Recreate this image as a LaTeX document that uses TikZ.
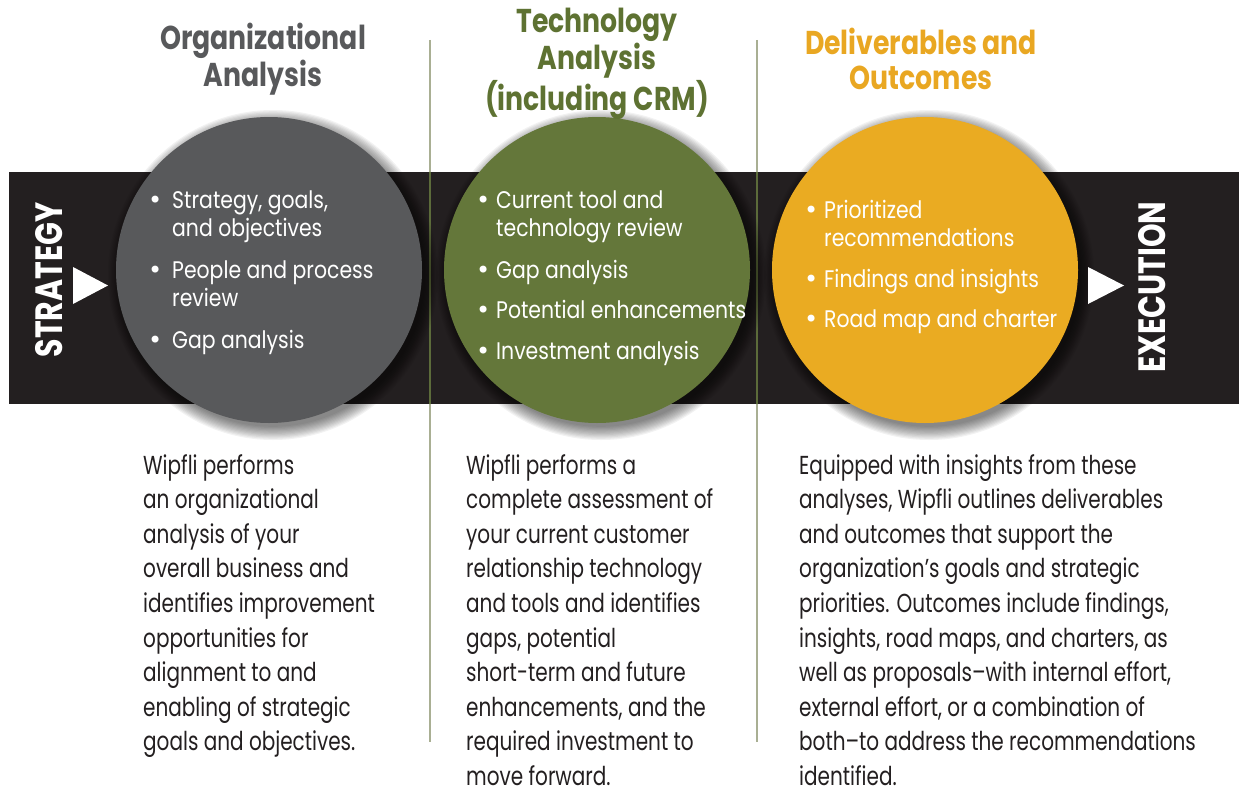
\documentclass[tikz,border=0pt]{standalone}
\usepackage{fontspec}
\setmainfont{Poppins}
\newfontfamily\bodyfont[FakeStretch=0.77]{Poppins}
\newfontfamily\listfont[FakeStretch=0.85]{Poppins}
\newfontfamily\headfont[FakeStretch=0.81]{Poppins}
\newfontfamily\sidefont[FakeStretch=0.79]{Poppins}
\newfontfamily\dotfont{DejaVu Sans}
\usetikzlibrary{calc}

\definecolor{bandc}{HTML}{231F20}
\definecolor{grayc}{HTML}{58595B}
\definecolor{greenc}{HTML}{64773A}
\definecolor{orangec}{HTML}{EAAB22}
\definecolor{greent}{HTML}{5E7232}
\definecolor{oranget}{HTML}{E9A722}
\definecolor{textc}{HTML}{231F20}
\definecolor{divc}{HTML}{A9AF93}
\definecolor{divdark}{HTML}{5C6B3A}

\tikzset{
  disc/.style={circle, minimum size=306pt, inner sep=0pt},
  bullets/.style={anchor=base west, inner sep=0pt, text=white,
    font=\listfont\fontsize{24}{28.5}\selectfont},
  body/.style={anchor=base west, inner sep=0pt, text=textc,
    font=\bodyfont\fontsize{26}{34.6}\selectfont},
  heading/.style={anchor=base, inner sep=0pt,
    font=\headfont\bfseries\fontsize{33}{34.5}\selectfont},
  side/.style={inner sep=0pt, text=white, rotate=90,
    font=\sidefont\bfseries\fontsize{38}{40}\selectfont},
  divider/.style={draw=divc, line width=2.4pt},
  dividerin/.style={draw=divdark, line width=2.4pt},
  marker/.style={fill=white}
}

% soft drop shadow beneath a disc
\newcommand{\discshadow}[1]{%
  \foreach \k in {0,...,11}{
    \fill[black, opacity=0.05] (#1) circle[radius={165-\k*1.2}];
  }%
}
\newcommand{\dotmark}{{\dotfont\textbullet}}
\newcommand{\bul}[1]{\makebox[#1][l]{\dotmark}}

\begin{document}
\begin{tikzpicture}[x=1pt, y=-1pt]
\useasboundingbox (0,0) rectangle (1239,792);

% black band
\fill[bandc] (9,172) rectangle (1239,404);

% column dividers
\coordinate (d1t) at (430,40);  \coordinate (d1b) at (430,742);
\coordinate (d1u) at (430,172); \coordinate (d1l) at (430,404);
\coordinate (d2t) at (757,40);  \coordinate (d2b) at (757,742);
\coordinate (d2u) at (757,172); \coordinate (d2l) at (757,404);
\draw[divider] (d1t) -- (d1b);
\draw[divider] (d2t) -- (d2b);
\draw[dividerin] (d1u) -- (d1l);
\draw[dividerin] (d2u) -- (d2l);

% shadows
\coordinate (s1) at (273,275);
\coordinate (s2) at (601,275);
\coordinate (s3) at (929,275);
\discshadow{s1}
\discshadow{s2}
\discshadow{s3}

% discs
\node[disc, fill=grayc]   (c1) at (269,270) {};
\node[disc, fill=greenc]  (c2) at (597,270) {};
\node[disc, fill=orangec] (c3) at (925,270) {};

% side labels and markers
\node[side] (strat) at (49,280) {STRATEGY};
\node[side] (exec) at (1152,287) {EXECUTION};
\fill[marker] (73,267) -- (108,285.5) -- (73,304) -- cycle;
\fill[marker] (1088,267) -- (1124,285.5) -- (1088,304) -- cycle;

% headings
\node[heading, text=grayc] (h1) at (263,50)
  {\begin{tabular}[t]{@{}c@{}}Organizational\\Analysis\end{tabular}};
\node[heading, text=greent] (h2) at (597,33)
  {\begin{tabular}[t]{@{}c@{}}Technology\\Analysis\\(including CRM)\end{tabular}};
\node[heading, text=oranget] (h3) at (921,55)
  {\begin{tabular}[t]{@{}c@{}}Deliverables and\\Outcomes\end{tabular}};

% bullet lists
\node[bullets] (l1) at (148,208)
  {\begin{tabular}[t]{@{}l@{}l@{}}
   \bul{24pt} & Strategy, goals,\\
              & and objectives\\[13pt]
   \dotmark   & People and process\\
              & review\\[13pt]
   \dotmark   & Gap analysis
   \end{tabular}};
\node[bullets] (l2) at (476,208)
  {\begin{tabular}[t]{@{}l@{}l@{}}
   \bul{20pt} & Current tool and\\
              & technology review\\[13pt]
   \dotmark   & Gap analysis\\[12pt]
   \dotmark   & Potential enhancements\\[12pt]
   \dotmark   & Investment analysis
   \end{tabular}};
\node[bullets] (l3) at (804,218)
  {\begin{tabular}[t]{@{}l@{}l@{}}
   \bul{20pt} & Prioritized\\
              & recommendations\\[12pt]
   \dotmark   & Findings and insights\\[12pt]
   \dotmark   & Road map and charter
   \end{tabular}};

% descriptions
\node[body] (t1) at (143,474)
  {\begin{tabular}[t]{@{}l@{}}
   Wipfli performs\\
   an organizational\\
   analysis of your\\
   overall business and\\
   identifies improvement\\
   opportunities for\\
   alignment to and\\
   enabling of strategic\\
   goals and objectives.
   \end{tabular}};
\node[body] (t2) at (466,474)
  {\begin{tabular}[t]{@{}l@{}}
   Wipfli performs a\\
   complete assessment of\\
   your current customer\\
   relationship technology\\
   and tools and identifies\\
   gaps, potential\\
   short-term and future\\
   enhancements, and the\\
   required investment to\\
   move forward.
   \end{tabular}};
\node[body] (t3) at (799,474)
  {\begin{tabular}[t]{@{}l@{}}
   Equipped with insights from these\\
   analyses, Wipfli outlines deliverables\\
   and outcomes that support the\\
   organization’s goals and strategic\\
   priorities. Outcomes include findings,\\
   insights, road maps, and charters, as\\
   well as proposals–with internal effort,\\
   external effort, or a combination of\\
   both–to address the recommendations\\
   identified.
   \end{tabular}};
\end{tikzpicture}
\end{document}
